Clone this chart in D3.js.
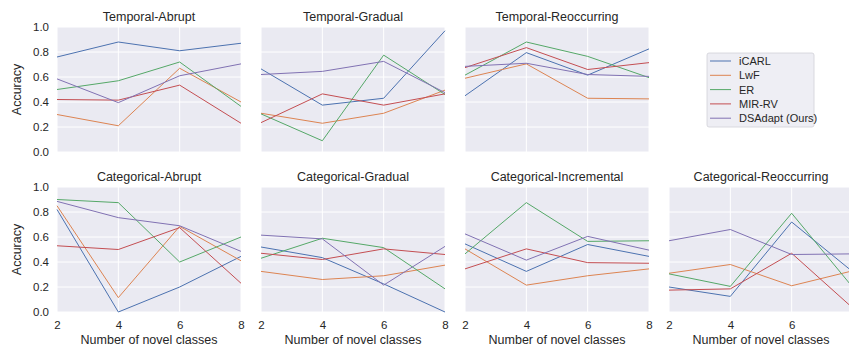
<!DOCTYPE html>
<html>
<head>
<meta charset="utf-8">
<script src="https://cdn.jsdelivr.net/npm/d3@7"></script>
<style>
  body { margin: 0; background: #fff; }
  svg { display: block; font-family: "Liberation Sans", Arial, sans-serif; }
</style>
</head>
<body>
<div id="chart"></div>
<script>
const steps = [2, 4, 6, 8];
const methods = ["iCARL", "LwF", "ER", "MIR-RV", "DSAdapt (Ours)"];
const colors = ["#4C72B0", "#DD8452", "#55A868", "#C44E52", "#8172B3"];
const yTicks = [0, 0.2, 0.4, 0.6, 0.8, 1.0];

// one row per method, values at 2/4/6/8 novel classes
const temporalAbrupt = [
    [0.76, 0.88, 0.81, 0.87],
    [0.30, 0.21, 0.67, 0.40],
    [0.50, 0.57, 0.72, 0.365],
    [0.42, 0.415, 0.535, 0.23],
    [0.585, 0.395, 0.61, 0.705]
];
const temporalGradual = [
    [0.665, 0.375, 0.43, 0.97],
    [0.31, 0.23, 0.31, 0.495],
    [0.305, 0.09, 0.775, 0.46],
    [0.235, 0.465, 0.375, 0.465],
    [0.62, 0.645, 0.725, 0.475]
];
const temporalReoccurring = [
    [0.45, 0.795, 0.615, 0.825],
    [0.59, 0.705, 0.43, 0.425],
    [0.615, 0.88, 0.765, 0.595],
    [0.675, 0.835, 0.66, 0.715],
    [0.685, 0.71, 0.62, 0.605]
];
const categoricalAbrupt = [
    [0.82, 0.0, 0.20, 0.445],
    [0.85, 0.115, 0.685, 0.41],
    [0.90, 0.875, 0.40, 0.60],
    [0.53, 0.50, 0.675, 0.23],
    [0.885, 0.755, 0.69, 0.485]
];
const categoricalGradual = [
    [0.52, 0.435, 0.225, 0.0],
    [0.325, 0.26, 0.29, 0.375],
    [0.43, 0.59, 0.515, 0.185],
    [0.47, 0.42, 0.505, 0.46],
    [0.615, 0.585, 0.215, 0.525]
];
const categoricalIncremental = [
    [0.545, 0.325, 0.54, 0.445],
    [0.505, 0.215, 0.29, 0.345],
    [0.465, 0.875, 0.565, 0.57],
    [0.345, 0.505, 0.395, 0.39],
    [0.625, 0.415, 0.605, 0.495]
];
const categoricalReoccurring = [
    [0.20, 0.125, 0.72, 0.32],
    [0.31, 0.38, 0.21, 0.33],
    [0.305, 0.205, 0.79, 0.195],
    [0.175, 0.185, 0.47, 0.03],
    [0.57, 0.66, 0.46, 0.465]
];

const panels = [
    { title: "Temporal-Abrupt", data: temporalAbrupt, row: 0, col: 0 },
    { title: "Temporal-Gradual", data: temporalGradual, row: 0, col: 1 },
    { title: "Temporal-Reoccurring", data: temporalReoccurring, row: 0, col: 2 },
    { title: "Categorical-Abrupt", data: categoricalAbrupt, row: 1, col: 0 },
    { title: "Categorical-Gradual", data: categoricalGradual, row: 1, col: 1 },
    { title: "Categorical-Incremental", data: categoricalIncremental, row: 1, col: 2 },
    { title: "Categorical-Reoccurring", data: categoricalReoccurring, row: 1, col: 3 }
];

const width = 849, height = 350;
const panelW = 184, panelH = 125;
const left0 = 57, colStep = 204;
const rowTops = [27, 187];
const textColor = "#262626";

const svg = d3.select("#chart")
    .append("svg")
    .attr("width", width)
    .attr("height", height);

panels.forEach(p => {
    const ox = left0 + p.col * colStep;
    const oy = rowTops[p.row];

    const x = d3.scaleLinear().domain([2, 8]).range([0, panelW]);
    const y = d3.scaleLinear().domain([0, 1]).range([panelH, 0]);

    const g = svg.append("g").attr("transform", `translate(${ox},${oy})`);

    g.append("rect")
        .attr("width", panelW)
        .attr("height", panelH)
        .attr("fill", "#EAEAF2");

    // grid
    g.selectAll(".vgrid")
        .data(steps)
        .enter()
        .append("line")
        .attr("x1", d => x(d)).attr("x2", d => x(d))
        .attr("y1", 0).attr("y2", panelH)
        .attr("stroke", "#fff")
        .attr("stroke-width", 1);

    g.selectAll(".hgrid")
        .data(yTicks)
        .enter()
        .append("line")
        .attr("x1", 0).attr("x2", panelW)
        .attr("y1", d => y(d)).attr("y2", d => y(d))
        .attr("stroke", "#fff")
        .attr("stroke-width", 1);

    const line = d3.line()
        .x((d, i) => x(steps[i]))
        .y(d => y(d));

    p.data.forEach((vals, i) => {
        g.append("path")
            .datum(vals)
            .attr("fill", "none")
            .attr("stroke", colors[i])
            .attr("stroke-width", 1)
            .attr("d", line);
    });

    // title
    g.append("text")
        .attr("x", panelW / 2)
        .attr("y", -6)
        .attr("text-anchor", "middle")
        .attr("fill", textColor)
        .style("font-size", "12.5px")
        .text(p.title);

    // y axis only for first column
    if (p.col === 0) {
        g.append("g")
            .call(d3.axisLeft(y).tickValues(yTicks).tickFormat(d3.format(".1f")).tickSize(0).tickPadding(8))
            .call(a => a.select(".domain").remove())
            .selectAll("text")
            .attr("fill", textColor)
            .style("font-size", "11.5px")
            .style("font-family", "'Liberation Sans', Arial, sans-serif");

        g.append("text")
            .attr("transform", `translate(-36,${panelH / 2}) rotate(-90)`)
            .attr("text-anchor", "middle")
            .attr("fill", textColor)
            .style("font-size", "12.5px")
            .text("Accuracy");
    }

    // x axis only for bottom row; the last panel runs past the page edge, drop ticks that fall off it
    if (p.row === 1) {
        const visibleSteps = steps.filter(s => ox + x(s) + 4 < width);
        g.append("g")
            .attr("transform", `translate(0,${panelH})`)
            .call(d3.axisBottom(x).tickValues(visibleSteps).tickFormat(d3.format("d")).tickSize(0).tickPadding(9))
            .call(a => a.select(".domain").remove())
            .selectAll("text")
            .attr("fill", textColor)
            .style("font-size", "11.5px")
            .style("font-family", "'Liberation Sans', Arial, sans-serif");

        g.append("text")
            .attr("x", panelW / 2)
            .attr("y", panelH + 32)
            .attr("text-anchor", "middle")
            .attr("fill", textColor)
            .style("font-size", "12.5px")
            .text("Number of novel classes");
    }
});

// legend
const legend = svg.append("g").attr("transform", "translate(707,53)");
legend.append("rect")
    .attr("width", 107)
    .attr("height", 74)
    .attr("rx", 2)
    .attr("fill", "#EEEEF4")
    .attr("stroke", "#D0D0D8")
    .attr("stroke-width", 0.8);

methods.forEach((m, i) => {
    const ly = 8 + i * 14.3;
    legend.append("line")
        .attr("x1", 3).attr("x2", 24)
        .attr("y1", ly).attr("y2", ly)
        .attr("stroke", colors[i])
        .attr("stroke-width", 1);
    legend.append("text")
        .attr("x", 32)
        .attr("y", ly + 4)
        .attr("fill", textColor)
        .style("font-size", "11px")
        .text(m);
});
</script>
</body>
</html>
